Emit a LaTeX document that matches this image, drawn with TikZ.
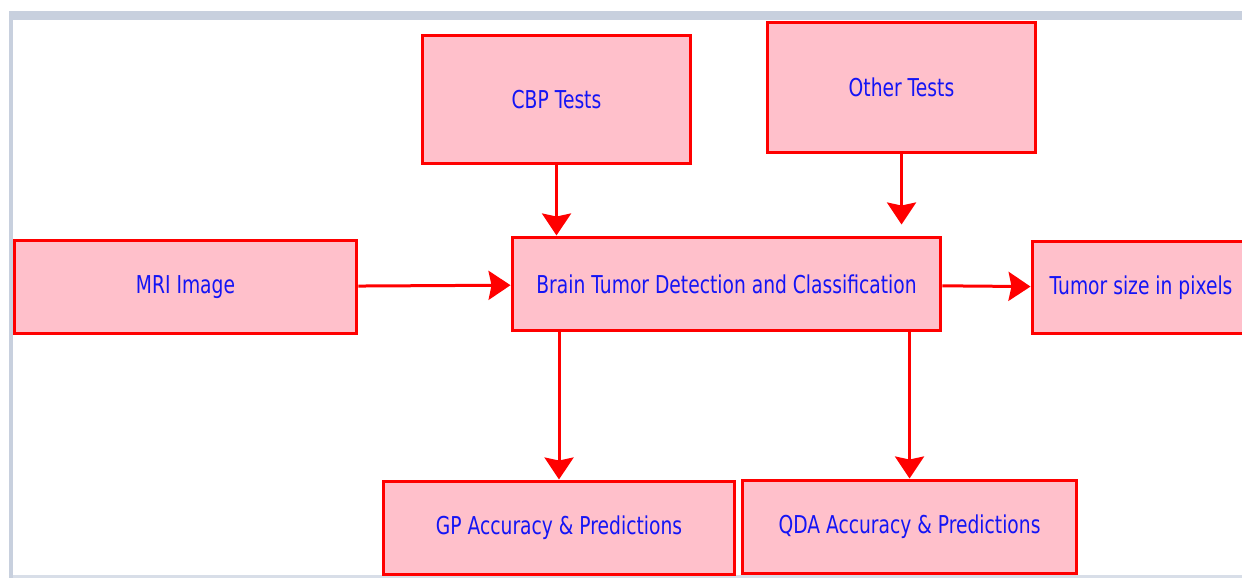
\documentclass[tikz,border=0pt]{standalone}
\usepackage{fontspec}
\setmainfont{DejaVu Sans}[FakeStretch=0.76]
\usetikzlibrary{arrows.meta}
\definecolor{boxfill}{RGB}{255,192,203}
\definecolor{boxline}{RGB}{255,0,0}
\definecolor{boxtext}{RGB}{20,20,245}
\definecolor{frame}{RGB}{200,208,222}

\begin{document}
\begin{tikzpicture}[x=0.02cm,y=-0.02cm,>={Stealth[length=0.44cm,width=0.58cm,inset=0.06cm]},
      box/.style={draw=boxline,fill=boxfill,line width=0.06cm,text=boxtext,
        font=\fontsize{14}{17}\selectfont,minimum height=1.88cm,align=center},
      link/.style={->,draw=boxline,line width=0.06cm}]
      \useasboundingbox (0,0) rectangle (1242,578);
      \clip (0,0) rectangle (1242,578);
      % screenshot frame
      \fill[frame] (9,11) rectangle (1242,20);
      \fill[frame] (9,11) rectangle (13,578);
      \fill[frame!70] (13,575) rectangle (1242,578);
      % boxes
      \node[box,minimum width=6.86cm] (mri) at (185.5,287) {MRI Image};
      \node[box,minimum width=5.38cm,minimum height=2.58cm] (cbp) at (556.5,99.5) {CBP Tests};
      \node[box,minimum width=5.38cm,minimum height=2.62cm] (other) at (901.5,87.5) {Other Tests};
      \node[box,minimum width=8.58cm] (btdc) at (726.5,284) {Brain Tumor Detection and Classification};
      \node[box,minimum width=4.36cm,minimum height=1.86cm] (size) at (1141,287.5) {Tumor size in pixels};
      \node[box,minimum width=7.04cm] (gp) at (559,528) {GP Accuracy \& Predictions};
      \node[box,minimum width=6.70cm] (qda) at (909.5,527) {QDA Accuracy \& Predictions};
      % arrows
      \draw[link] (mri) -- (btdc);
      \draw[link] (cbp.south) -- (cbp.south |- btdc.north);
      \draw[link,shorten >=0.22cm] (other.south) -- (other.south |- btdc.north);
      \draw[link] (btdc) -- (size);
      \draw[link] (gp.north |- btdc.south) -- (gp.north);
      \draw[link] (qda.north |- btdc.south) -- (qda.north);
\end{tikzpicture}
\end{document}
